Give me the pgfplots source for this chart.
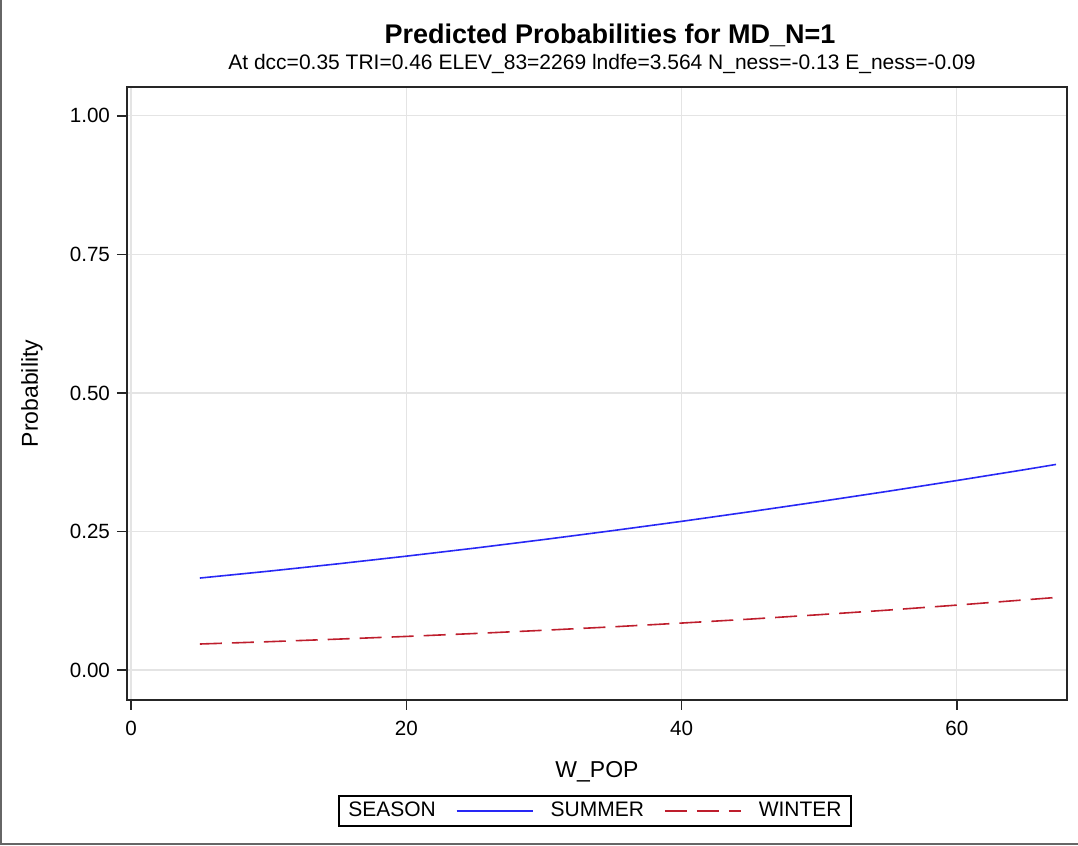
\documentclass[border=0pt]{standalone}
\usepackage{pgfplots}
\pgfplotsset{compat=1.18}
\usepackage{fontspec}
\setmainfont{Liberation Sans}

\definecolor{summerblue}{RGB}{40,40,245}
\definecolor{winterred}{RGB}{190,30,45}
\definecolor{gridgray}{RGB}{228,228,228}

% 1 px of the reference = 0.5pt
\begin{document}
\begin{tikzpicture}
\useasboundingbox (-63.5pt,-73pt) rectangle (475.5pt,350pt);
\draw[black!60, line width=1pt] (-62.8pt,350pt) -- (-62.8pt,-71.8pt) -- (475.5pt,-71.8pt);
\begin{axis}[
    at={(0pt,0pt)}, anchor=south west,
    scale only axis,
    width=470pt, height=306.5pt,
    xmin=-0.29, xmax=68.0,
    ymin=-0.054, ymax=1.052,
    xtick={0,20,40,60},
    ytick={0,0.25,0.5,0.75,1},
    axis line style={black!85, line width=0.8pt},
    tick style={black!85, line width=0.7pt},
    tick align=outside,
    major tick length=5pt,
    xtick pos=bottom, ytick pos=left,
    grid=major,
    major grid style={gridgray, line width=0.6pt},
    tick label style={font=\fontsize{10.3}{12}\selectfont},
    xticklabel style={yshift=-2pt},
    /pgf/number format/assume math mode=true,
    yticklabel style={/pgf/number format/.cd, fixed, fixed zerofill, precision=2},
    xlabel={W\_POP},
    ylabel={Probability},
    label style={font=\fontsize{11.5}{13}\selectfont},
    xlabel style={at={(axis description cs:0.5,0)}, anchor=base, yshift=-39pt},
    every axis y label/.append style={at={(-47.5pt,153.25pt)}, anchor=center},
    legend columns=3,
    legend style={
        at={(234pt,-55.5pt)}, anchor=center,
        draw=black, line width=0.9pt,
        font=\fontsize{10.5}{12.5}\selectfont,
        inner xsep=2.5pt, inner ysep=1pt,
        /tikz/every even column/.append style={column sep=8pt},
    },
    legend image code/.code={
        \draw[#1, line width=0.8pt] (0pt,0pt) -- (38pt,0pt);
        \path[draw=none, fill=none] (0pt,-2pt) rectangle (45pt,2pt);
    },
]
\addlegendimage{empty legend}
\addlegendentry{SEASON}

\addplot[summerblue, line width=0.8pt] coordinates {
(5,0.1660) (10,0.1784) (15,0.1916) (20,0.2055) (25,0.2201) (30,0.2355)
(35,0.2516) (40,0.2683) (45,0.2858) (50,0.3039) (55,0.3226) (60,0.3420)
(65,0.3619) (67.2,0.3710)
};
\addlegendentry{SUMMER}

\addplot[winterred, line width=0.8pt, dash pattern=on 11pt off 5pt] coordinates {
(5,0.0470) (10,0.0512) (15,0.0558) (20,0.0607) (25,0.0660) (30,0.0718)
(35,0.0780) (40,0.0848) (45,0.0920) (50,0.0999) (55,0.1082) (60,0.1172)
(65,0.1268) (67.2,0.1310)
};
\addlegendentry{WINTER}
\end{axis}
\node[anchor=base, font=\bfseries\fontsize{13.5}{16}\selectfont] at (241.5pt,328pt) {Predicted Probabilities for MD\_N=1};
\node[anchor=base, font=\fontsize{10.5}{12}\selectfont] at (237.5pt,315pt) {At dcc=0.35 TRI=0.46 ELEV\_83=2269 lndfe=3.564 N\_ness=-0.13 E\_ness=-0.09};
\end{tikzpicture}
\end{document}
